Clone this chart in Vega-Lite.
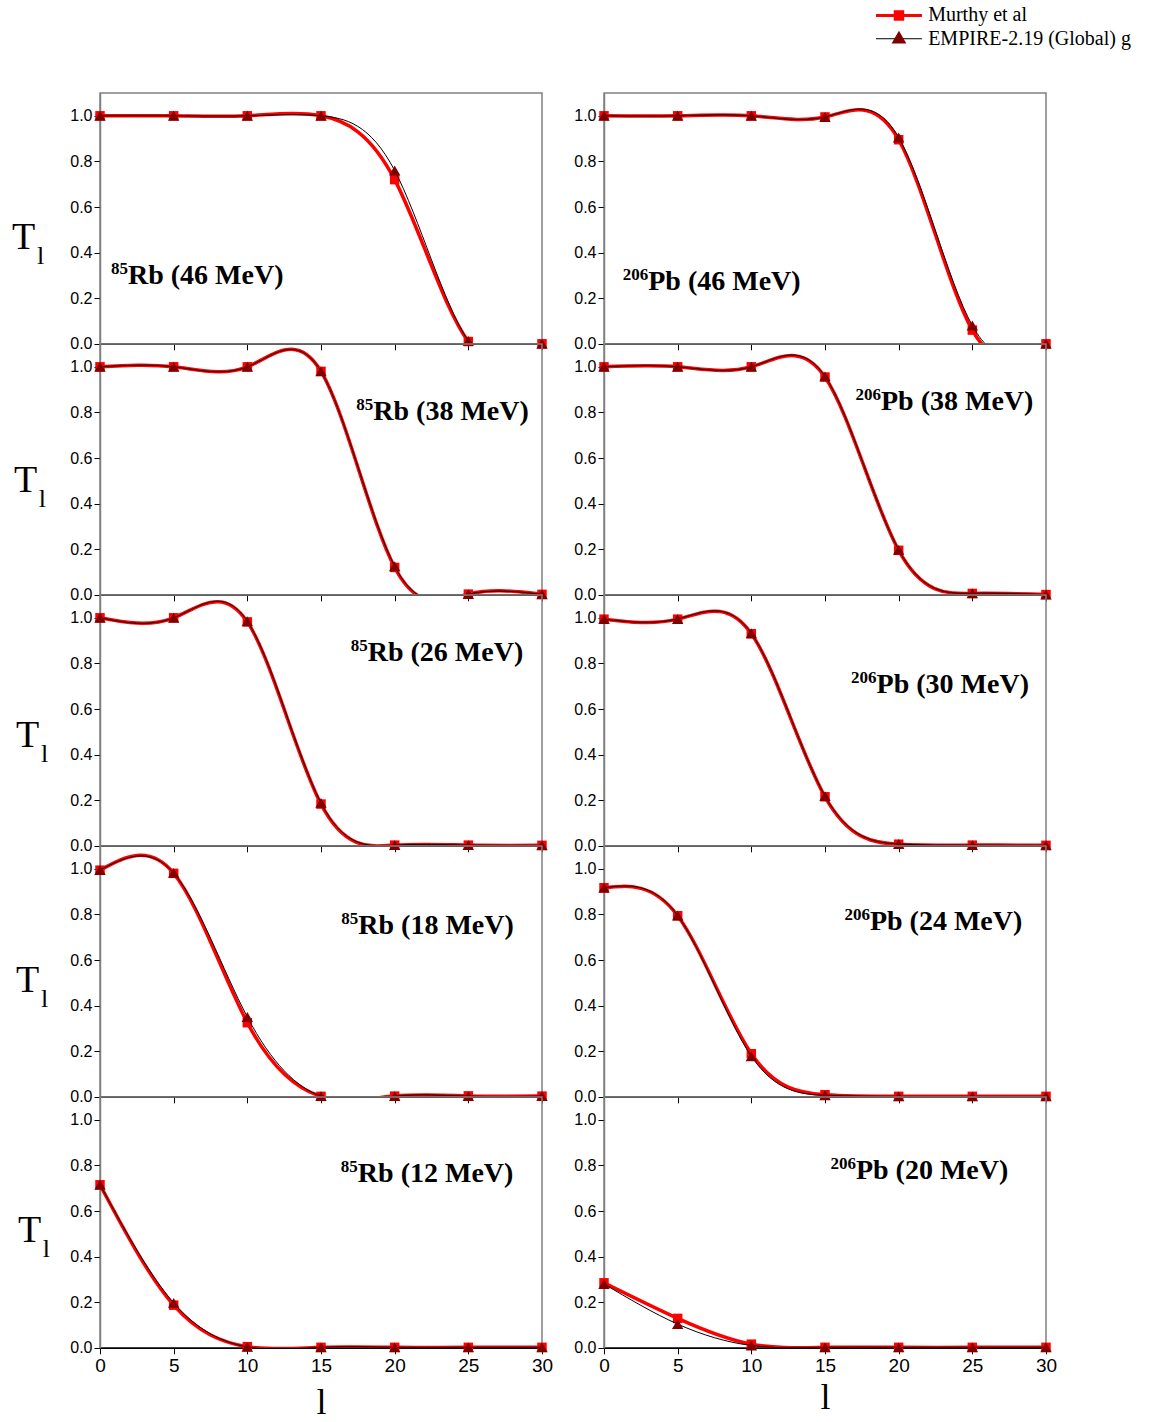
{
"$schema": "https://vega.github.io/schema/vega-lite/v6.json",
"padding": {"left": 11, "top": 4, "right": 0, "bottom": 0},
"background": "white",
"datasets": {"t": [
{"panel":"Rb46","series":"Murthy et al","l":0,"T":1.0},{"panel":"Rb46","series":"Murthy et al","l":5,"T":1.0},{"panel":"Rb46","series":"Murthy et al","l":10,"T":1.0},{"panel":"Rb46","series":"Murthy et al","l":15,"T":1.0},{"panel":"Rb46","series":"Murthy et al","l":20,"T":0.72},{"panel":"Rb46","series":"Murthy et al","l":25,"T":0.01},{"panel":"Rb46","series":"Murthy et al","l":30,"T":0.0},
{"panel":"Rb46","series":"EMPIRE","l":0,"T":1.0},{"panel":"Rb46","series":"EMPIRE","l":5,"T":1.0},{"panel":"Rb46","series":"EMPIRE","l":10,"T":1.0},{"panel":"Rb46","series":"EMPIRE","l":15,"T":1.0},{"panel":"Rb46","series":"EMPIRE","l":20,"T":0.76},{"panel":"Rb46","series":"EMPIRE","l":25,"T":0.013},{"panel":"Rb46","series":"EMPIRE","l":30,"T":0.0},
{"panel":"Pb46","series":"Murthy et al","l":0,"T":1.0},{"panel":"Pb46","series":"Murthy et al","l":5,"T":1.0},{"panel":"Pb46","series":"Murthy et al","l":10,"T":1.0},{"panel":"Pb46","series":"Murthy et al","l":15,"T":0.995},{"panel":"Pb46","series":"Murthy et al","l":20,"T":0.895},{"panel":"Pb46","series":"Murthy et al","l":25,"T":0.06},{"panel":"Pb46","series":"Murthy et al","l":30,"T":0.0},
{"panel":"Pb46","series":"EMPIRE","l":0,"T":1.0},{"panel":"Pb46","series":"EMPIRE","l":5,"T":1.0},{"panel":"Pb46","series":"EMPIRE","l":10,"T":1.0},{"panel":"Pb46","series":"EMPIRE","l":15,"T":0.995},{"panel":"Pb46","series":"EMPIRE","l":20,"T":0.905},{"panel":"Pb46","series":"EMPIRE","l":25,"T":0.08},{"panel":"Pb46","series":"EMPIRE","l":30,"T":0.0},
{"panel":"Rb38","series":"Murthy et al","l":0,"T":1.0},{"panel":"Rb38","series":"Murthy et al","l":5,"T":1.0},{"panel":"Rb38","series":"Murthy et al","l":10,"T":1.0},{"panel":"Rb38","series":"Murthy et al","l":15,"T":0.98},{"panel":"Rb38","series":"Murthy et al","l":20,"T":0.12},{"panel":"Rb38","series":"Murthy et al","l":25,"T":0.003},{"panel":"Rb38","series":"Murthy et al","l":30,"T":0.002},
{"panel":"Rb38","series":"EMPIRE","l":0,"T":1.0},{"panel":"Rb38","series":"EMPIRE","l":5,"T":1.0},{"panel":"Rb38","series":"EMPIRE","l":10,"T":1.0},{"panel":"Rb38","series":"EMPIRE","l":15,"T":0.98},{"panel":"Rb38","series":"EMPIRE","l":20,"T":0.125},{"panel":"Rb38","series":"EMPIRE","l":25,"T":0.003},{"panel":"Rb38","series":"EMPIRE","l":30,"T":0.002},
{"panel":"Pb38","series":"Murthy et al","l":0,"T":1.0},{"panel":"Pb38","series":"Murthy et al","l":5,"T":1.0},{"panel":"Pb38","series":"Murthy et al","l":10,"T":1.0},{"panel":"Pb38","series":"Murthy et al","l":15,"T":0.955},{"panel":"Pb38","series":"Murthy et al","l":20,"T":0.195},{"panel":"Pb38","series":"Murthy et al","l":25,"T":0.006},{"panel":"Pb38","series":"Murthy et al","l":30,"T":0.001},
{"panel":"Pb38","series":"EMPIRE","l":0,"T":1.0},{"panel":"Pb38","series":"EMPIRE","l":5,"T":1.0},{"panel":"Pb38","series":"EMPIRE","l":10,"T":1.0},{"panel":"Pb38","series":"EMPIRE","l":15,"T":0.958},{"panel":"Pb38","series":"EMPIRE","l":20,"T":0.197},{"panel":"Pb38","series":"EMPIRE","l":25,"T":0.007},{"panel":"Pb38","series":"EMPIRE","l":30,"T":0.001},
{"panel":"Rb26","series":"Murthy et al","l":0,"T":1.0},{"panel":"Rb26","series":"Murthy et al","l":5,"T":1.0},{"panel":"Rb26","series":"Murthy et al","l":10,"T":0.982},{"panel":"Rb26","series":"Murthy et al","l":15,"T":0.183},{"panel":"Rb26","series":"Murthy et al","l":20,"T":0.003},{"panel":"Rb26","series":"Murthy et al","l":25,"T":0.003},{"panel":"Rb26","series":"Murthy et al","l":30,"T":0.002},
{"panel":"Rb26","series":"EMPIRE","l":0,"T":1.0},{"panel":"Rb26","series":"EMPIRE","l":5,"T":1.0},{"panel":"Rb26","series":"EMPIRE","l":10,"T":0.985},{"panel":"Rb26","series":"EMPIRE","l":15,"T":0.188},{"panel":"Rb26","series":"EMPIRE","l":20,"T":0.003},{"panel":"Rb26","series":"EMPIRE","l":25,"T":0.003},{"panel":"Rb26","series":"EMPIRE","l":30,"T":0.002},
{"panel":"Pb30","series":"Murthy et al","l":0,"T":0.994},{"panel":"Pb30","series":"Murthy et al","l":5,"T":0.994},{"panel":"Pb30","series":"Murthy et al","l":10,"T":0.93},{"panel":"Pb30","series":"Murthy et al","l":15,"T":0.215},{"panel":"Pb30","series":"Murthy et al","l":20,"T":0.007},{"panel":"Pb30","series":"Murthy et al","l":25,"T":0.003},{"panel":"Pb30","series":"Murthy et al","l":30,"T":0.002},
{"panel":"Pb30","series":"EMPIRE","l":0,"T":0.994},{"panel":"Pb30","series":"EMPIRE","l":5,"T":0.995},{"panel":"Pb30","series":"EMPIRE","l":10,"T":0.932},{"panel":"Pb30","series":"EMPIRE","l":15,"T":0.218},{"panel":"Pb30","series":"EMPIRE","l":20,"T":0.008},{"panel":"Pb30","series":"EMPIRE","l":25,"T":0.003},{"panel":"Pb30","series":"EMPIRE","l":30,"T":0.002},
{"panel":"Rb18","series":"Murthy et al","l":0,"T":0.994},{"panel":"Rb18","series":"Murthy et al","l":5,"T":0.98},{"panel":"Rb18","series":"Murthy et al","l":10,"T":0.325},{"panel":"Rb18","series":"Murthy et al","l":15,"T":0.002},{"panel":"Rb18","series":"Murthy et al","l":20,"T":0.003},{"panel":"Rb18","series":"Murthy et al","l":25,"T":0.004},{"panel":"Rb18","series":"Murthy et al","l":30,"T":0.003},
{"panel":"Rb18","series":"EMPIRE","l":0,"T":0.995},{"panel":"Rb18","series":"EMPIRE","l":5,"T":0.982},{"panel":"Rb18","series":"EMPIRE","l":10,"T":0.35},{"panel":"Rb18","series":"EMPIRE","l":15,"T":0.003},{"panel":"Rb18","series":"EMPIRE","l":20,"T":0.003},{"panel":"Rb18","series":"EMPIRE","l":25,"T":0.003},{"panel":"Rb18","series":"EMPIRE","l":30,"T":0.003},
{"panel":"Pb24","series":"Murthy et al","l":0,"T":0.917},{"panel":"Pb24","series":"Murthy et al","l":5,"T":0.794},{"panel":"Pb24","series":"Murthy et al","l":10,"T":0.189},{"panel":"Pb24","series":"Murthy et al","l":15,"T":0.009},{"panel":"Pb24","series":"Murthy et al","l":20,"T":0.002},{"panel":"Pb24","series":"Murthy et al","l":25,"T":0.002},{"panel":"Pb24","series":"Murthy et al","l":30,"T":0.002},
{"panel":"Pb24","series":"EMPIRE","l":0,"T":0.917},{"panel":"Pb24","series":"EMPIRE","l":5,"T":0.795},{"panel":"Pb24","series":"EMPIRE","l":10,"T":0.178},{"panel":"Pb24","series":"EMPIRE","l":15,"T":0.007},{"panel":"Pb24","series":"EMPIRE","l":20,"T":0.002},{"panel":"Pb24","series":"EMPIRE","l":25,"T":0.002},{"panel":"Pb24","series":"EMPIRE","l":30,"T":0.002},
{"panel":"Rb12","series":"Murthy et al","l":0,"T":0.715},{"panel":"Rb12","series":"Murthy et al","l":5,"T":0.187},{"panel":"Rb12","series":"Murthy et al","l":10,"T":0.005},{"panel":"Rb12","series":"Murthy et al","l":15,"T":0.002},{"panel":"Rb12","series":"Murthy et al","l":20,"T":0.002},{"panel":"Rb12","series":"Murthy et al","l":25,"T":0.002},{"panel":"Rb12","series":"Murthy et al","l":30,"T":0.002},
{"panel":"Rb12","series":"EMPIRE","l":0,"T":0.715},{"panel":"Rb12","series":"EMPIRE","l":5,"T":0.197},{"panel":"Rb12","series":"EMPIRE","l":10,"T":0.004},{"panel":"Rb12","series":"EMPIRE","l":15,"T":0.002},{"panel":"Rb12","series":"EMPIRE","l":20,"T":0.002},{"panel":"Rb12","series":"EMPIRE","l":25,"T":0.002},{"panel":"Rb12","series":"EMPIRE","l":30,"T":0.002},
{"panel":"Pb20","series":"Murthy et al","l":0,"T":0.285},{"panel":"Pb20","series":"Murthy et al","l":5,"T":0.129},{"panel":"Pb20","series":"Murthy et al","l":10,"T":0.016},{"panel":"Pb20","series":"Murthy et al","l":15,"T":0.002},{"panel":"Pb20","series":"Murthy et al","l":20,"T":0.002},{"panel":"Pb20","series":"Murthy et al","l":25,"T":0.002},{"panel":"Pb20","series":"Murthy et al","l":30,"T":0.002},
{"panel":"Pb20","series":"EMPIRE","l":0,"T":0.28},{"panel":"Pb20","series":"EMPIRE","l":5,"T":0.104},{"panel":"Pb20","series":"EMPIRE","l":10,"T":0.01},{"panel":"Pb20","series":"EMPIRE","l":15,"T":0.002},{"panel":"Pb20","series":"EMPIRE","l":20,"T":0.002},{"panel":"Pb20","series":"EMPIRE","l":25,"T":0.002},{"panel":"Pb20","series":"EMPIRE","l":30,"T":0.002}
]},
"columns": 2,
"spacing": {"row": 0, "column": 62},
"bounds": "flush",
"concat": [
{"width":442,"height":250.8,
 "layer":[
  {"data":{"name":"t"},"transform":[{"filter":"datum.panel=='Rb46' && datum.series=='Murthy et al'"}],"mark":{"type":"line","interpolate":"natural","color":"#ff0000","strokeWidth":3.5,"clip":true},
   "encoding":{"x":{"field":"l","type":"quantitative","scale":{"domain":[0,30],"nice":false,"zero":false},"axis":{"title":null,"labels":false,"values":[0,2.5,5,7.5,10,12.5,15,17.5,20,22.5,25,27.5,30]}},"y":{"field":"T","type":"quantitative","scale":{"domain":[0,1.1],"nice":false},"axis":{"title":null,"values":[0,0.1,0.2,0.3,0.4,0.5,0.6,0.7,0.8,0.9,1.0]}}}},
  {"data":{"name":"t"},"transform":[{"filter":"datum.panel=='Rb46' && datum.series=='Murthy et al'"}],"mark":{"type":"point","shape":"square","filled":true,"color":"#ff0000","size":90,"opacity":1},"encoding":{"x":{"field":"l","type":"quantitative"},"y":{"field":"T","type":"quantitative"}}},
  {"data":{"name":"t"},"transform":[{"filter":"datum.panel=='Rb46' && datum.series=='EMPIRE'"}],"mark":{"type":"line","interpolate":"natural","color":"#000000","strokeWidth":1,"clip":true},"encoding":{"x":{"field":"l","type":"quantitative"},"y":{"field":"T","type":"quantitative"}}},
  {"data":{"name":"t"},"transform":[{"filter":"datum.panel=='Rb46' && datum.series=='EMPIRE'"}],"mark":{"type":"point","shape":"triangle-up","filled":true,"color":"#800000","size":130,"opacity":1},"encoding":{"x":{"field":"l","type":"quantitative"},"y":{"field":"T","type":"quantitative"}}},
  {"data":{"values":[{"sup":"85","name":"Rb (46 MeV)"}]},"mark":{"type":"text","font":"Liberation Serif","fontWeight":"bold","fontSize":28,"align":"left","baseline":"alphabetic"},"encoding":{"x":{"datum":1.9},"y":{"datum":0.263},"text":{"field":"name"}}},
  {"data":{"values":[{"sup":"85","name":"Rb (46 MeV)"}]},"mark":{"type":"text","font":"Liberation Serif","fontWeight":"bold","fontSize":17,"align":"right","baseline":"alphabetic","dy":-10},"encoding":{"x":{"datum":1.9},"y":{"datum":0.263},"text":{"field":"sup"}}},
  {"data":{"values":[{"a":"T","b":"l"}]},"mark":{"type":"text","font":"Liberation Serif","fontSize":38,"align":"left","baseline":"alphabetic"},"encoding":{"x":{"datum":-5.97},"y":{"datum":0.417},"text":{"field":"a"}}},
  {"data":{"values":[{"a":"T","b":"l"}]},"mark":{"type":"text","font":"Liberation Serif","fontSize":26,"align":"left","baseline":"alphabetic"},"encoding":{"x":{"datum":-4.28},"y":{"datum":0.351},"text":{"field":"b"}}}
 ]},
{"width":442,"height":250.8,
 "layer":[
  {"data":{"name":"t"},"transform":[{"filter":"datum.panel=='Pb46' && datum.series=='Murthy et al'"}],"mark":{"type":"line","interpolate":"natural","color":"#ff0000","strokeWidth":3.5,"clip":true},
   "encoding":{"x":{"field":"l","type":"quantitative","scale":{"domain":[0,30],"nice":false,"zero":false},"axis":{"title":null,"labels":false,"values":[0,2.5,5,7.5,10,12.5,15,17.5,20,22.5,25,27.5,30]}},"y":{"field":"T","type":"quantitative","scale":{"domain":[0,1.1],"nice":false},"axis":{"title":null,"values":[0,0.1,0.2,0.3,0.4,0.5,0.6,0.7,0.8,0.9,1.0]}}}},
  {"data":{"name":"t"},"transform":[{"filter":"datum.panel=='Pb46' && datum.series=='Murthy et al'"}],"mark":{"type":"point","shape":"square","filled":true,"color":"#ff0000","size":90,"opacity":1},"encoding":{"x":{"field":"l","type":"quantitative"},"y":{"field":"T","type":"quantitative"}}},
  {"data":{"name":"t"},"transform":[{"filter":"datum.panel=='Pb46' && datum.series=='EMPIRE'"}],"mark":{"type":"line","interpolate":"natural","color":"#000000","strokeWidth":1,"clip":true},"encoding":{"x":{"field":"l","type":"quantitative"},"y":{"field":"T","type":"quantitative"}}},
  {"data":{"name":"t"},"transform":[{"filter":"datum.panel=='Pb46' && datum.series=='EMPIRE'"}],"mark":{"type":"point","shape":"triangle-up","filled":true,"color":"#800000","size":130,"opacity":1},"encoding":{"x":{"field":"l","type":"quantitative"},"y":{"field":"T","type":"quantitative"}}},
  {"data":{"values":[{"sup":"206","name":"Pb (46 MeV)"}]},"mark":{"type":"text","font":"Liberation Serif","fontWeight":"bold","fontSize":28,"align":"left","baseline":"alphabetic"},"encoding":{"x":{"datum":3.0},"y":{"datum":0.236},"text":{"field":"name"}}},
  {"data":{"values":[{"sup":"206","name":"Pb (46 MeV)"}]},"mark":{"type":"text","font":"Liberation Serif","fontWeight":"bold","fontSize":17,"align":"right","baseline":"alphabetic","dy":-10},"encoding":{"x":{"datum":3.0},"y":{"datum":0.236},"text":{"field":"sup"}}},
  {"data":{"values":[{"s":"Murthy et al"}]},"mark":{"type":"rule","color":"#ff0000","strokeWidth":3},"encoding":{"x":{"datum":18.46},"x2":{"datum":21.58},"y":{"datum":1.44}}},
  {"data":{"values":[{"s":"Murthy et al"}]},"mark":{"type":"point","shape":"square","filled":true,"color":"#ff0000","size":110,"opacity":1},"encoding":{"x":{"datum":20.02},"y":{"datum":1.44}}},
  {"data":{"values":[{"s":"Murthy et al"}]},"mark":{"type":"text","font":"Liberation Serif","fontSize":20,"align":"left","baseline":"middle"},"encoding":{"x":{"datum":22.0},"y":{"datum":1.44},"text":{"field":"s"}}},
  {"data":{"values":[{"s":"EMPIRE-2.19 (Global) g"}]},"mark":{"type":"rule","color":"#000000","strokeWidth":1},"encoding":{"x":{"datum":18.46},"x2":{"datum":21.58},"y":{"datum":1.338}}},
  {"data":{"values":[{"s":"EMPIRE-2.19 (Global) g"}]},"mark":{"type":"point","shape":"triangle-up","filled":true,"color":"#800000","size":220,"opacity":1},"encoding":{"x":{"datum":20.02},"y":{"datum":1.345}}},
  {"data":{"values":[{"s":"EMPIRE-2.19 (Global) g"}]},"mark":{"type":"text","font":"Liberation Serif","fontSize":20,"align":"left","baseline":"middle"},"encoding":{"x":{"datum":22.0},"y":{"datum":1.338},"text":{"field":"s"}}}
 ]},
{"width":442,"height":250.8,
 "layer":[
  {"data":{"name":"t"},"transform":[{"filter":"datum.panel=='Rb38' && datum.series=='Murthy et al'"}],"mark":{"type":"line","interpolate":"natural","color":"#ff0000","strokeWidth":3.5,"clip":true},
   "encoding":{"x":{"field":"l","type":"quantitative","scale":{"domain":[0,30],"nice":false,"zero":false},"axis":{"title":null,"labels":false,"values":[0,2.5,5,7.5,10,12.5,15,17.5,20,22.5,25,27.5,30]}},"y":{"field":"T","type":"quantitative","scale":{"domain":[0,1.1],"nice":false},"axis":{"title":null,"values":[0,0.1,0.2,0.3,0.4,0.5,0.6,0.7,0.8,0.9,1.0]}}}},
  {"data":{"name":"t"},"transform":[{"filter":"datum.panel=='Rb38' && datum.series=='Murthy et al'"}],"mark":{"type":"point","shape":"square","filled":true,"color":"#ff0000","size":90,"opacity":1},"encoding":{"x":{"field":"l","type":"quantitative"},"y":{"field":"T","type":"quantitative"}}},
  {"data":{"name":"t"},"transform":[{"filter":"datum.panel=='Rb38' && datum.series=='EMPIRE'"}],"mark":{"type":"line","interpolate":"natural","color":"#000000","strokeWidth":1,"clip":true},"encoding":{"x":{"field":"l","type":"quantitative"},"y":{"field":"T","type":"quantitative"}}},
  {"data":{"name":"t"},"transform":[{"filter":"datum.panel=='Rb38' && datum.series=='EMPIRE'"}],"mark":{"type":"point","shape":"triangle-up","filled":true,"color":"#800000","size":130,"opacity":1},"encoding":{"x":{"field":"l","type":"quantitative"},"y":{"field":"T","type":"quantitative"}}},
  {"data":{"values":[{"sup":"85","name":"Rb (38 MeV)"}]},"mark":{"type":"text","font":"Liberation Serif","fontWeight":"bold","fontSize":28,"align":"left","baseline":"alphabetic"},"encoding":{"x":{"datum":18.55},"y":{"datum":0.766},"text":{"field":"name"}}},
  {"data":{"values":[{"sup":"85","name":"Rb (38 MeV)"}]},"mark":{"type":"text","font":"Liberation Serif","fontWeight":"bold","fontSize":17,"align":"right","baseline":"alphabetic","dy":-10},"encoding":{"x":{"datum":18.55},"y":{"datum":0.766},"text":{"field":"sup"}}},
  {"data":{"values":[{"a":"T","b":"l"}]},"mark":{"type":"text","font":"Liberation Serif","fontSize":38,"align":"left","baseline":"alphabetic"},"encoding":{"x":{"datum":-5.84},"y":{"datum":0.452},"text":{"field":"a"}}},
  {"data":{"values":[{"a":"T","b":"l"}]},"mark":{"type":"text","font":"Liberation Serif","fontSize":26,"align":"left","baseline":"alphabetic"},"encoding":{"x":{"datum":-4.15},"y":{"datum":0.386},"text":{"field":"b"}}}
 ]},
{"width":442,"height":250.8,
 "layer":[
  {"data":{"name":"t"},"transform":[{"filter":"datum.panel=='Pb38' && datum.series=='Murthy et al'"}],"mark":{"type":"line","interpolate":"natural","color":"#ff0000","strokeWidth":3.5,"clip":true},
   "encoding":{"x":{"field":"l","type":"quantitative","scale":{"domain":[0,30],"nice":false,"zero":false},"axis":{"title":null,"labels":false,"values":[0,2.5,5,7.5,10,12.5,15,17.5,20,22.5,25,27.5,30]}},"y":{"field":"T","type":"quantitative","scale":{"domain":[0,1.1],"nice":false},"axis":{"title":null,"values":[0,0.1,0.2,0.3,0.4,0.5,0.6,0.7,0.8,0.9,1.0]}}}},
  {"data":{"name":"t"},"transform":[{"filter":"datum.panel=='Pb38' && datum.series=='Murthy et al'"}],"mark":{"type":"point","shape":"square","filled":true,"color":"#ff0000","size":90,"opacity":1},"encoding":{"x":{"field":"l","type":"quantitative"},"y":{"field":"T","type":"quantitative"}}},
  {"data":{"name":"t"},"transform":[{"filter":"datum.panel=='Pb38' && datum.series=='EMPIRE'"}],"mark":{"type":"line","interpolate":"natural","color":"#000000","strokeWidth":1,"clip":true},"encoding":{"x":{"field":"l","type":"quantitative"},"y":{"field":"T","type":"quantitative"}}},
  {"data":{"name":"t"},"transform":[{"filter":"datum.panel=='Pb38' && datum.series=='EMPIRE'"}],"mark":{"type":"point","shape":"triangle-up","filled":true,"color":"#800000","size":130,"opacity":1},"encoding":{"x":{"field":"l","type":"quantitative"},"y":{"field":"T","type":"quantitative"}}},
  {"data":{"values":[{"sup":"206","name":"Pb (38 MeV)"}]},"mark":{"type":"text","font":"Liberation Serif","fontWeight":"bold","fontSize":28,"align":"left","baseline":"alphabetic"},"encoding":{"x":{"datum":18.8},"y":{"datum":0.81},"text":{"field":"name"}}},
  {"data":{"values":[{"sup":"206","name":"Pb (38 MeV)"}]},"mark":{"type":"text","font":"Liberation Serif","fontWeight":"bold","fontSize":17,"align":"right","baseline":"alphabetic","dy":-10},"encoding":{"x":{"datum":18.8},"y":{"datum":0.81},"text":{"field":"sup"}}}
 ]},
{"width":442,"height":250.8,
 "layer":[
  {"data":{"name":"t"},"transform":[{"filter":"datum.panel=='Rb26' && datum.series=='Murthy et al'"}],"mark":{"type":"line","interpolate":"natural","color":"#ff0000","strokeWidth":3.5,"clip":true},
   "encoding":{"x":{"field":"l","type":"quantitative","scale":{"domain":[0,30],"nice":false,"zero":false},"axis":{"title":null,"labels":false,"values":[0,2.5,5,7.5,10,12.5,15,17.5,20,22.5,25,27.5,30]}},"y":{"field":"T","type":"quantitative","scale":{"domain":[0,1.1],"nice":false},"axis":{"title":null,"values":[0,0.1,0.2,0.3,0.4,0.5,0.6,0.7,0.8,0.9,1.0]}}}},
  {"data":{"name":"t"},"transform":[{"filter":"datum.panel=='Rb26' && datum.series=='Murthy et al'"}],"mark":{"type":"point","shape":"square","filled":true,"color":"#ff0000","size":90,"opacity":1},"encoding":{"x":{"field":"l","type":"quantitative"},"y":{"field":"T","type":"quantitative"}}},
  {"data":{"name":"t"},"transform":[{"filter":"datum.panel=='Rb26' && datum.series=='EMPIRE'"}],"mark":{"type":"line","interpolate":"natural","color":"#000000","strokeWidth":1,"clip":true},"encoding":{"x":{"field":"l","type":"quantitative"},"y":{"field":"T","type":"quantitative"}}},
  {"data":{"name":"t"},"transform":[{"filter":"datum.panel=='Rb26' && datum.series=='EMPIRE'"}],"mark":{"type":"point","shape":"triangle-up","filled":true,"color":"#800000","size":130,"opacity":1},"encoding":{"x":{"field":"l","type":"quantitative"},"y":{"field":"T","type":"quantitative"}}},
  {"data":{"values":[{"sup":"85","name":"Rb (26 MeV)"}]},"mark":{"type":"text","font":"Liberation Serif","fontWeight":"bold","fontSize":28,"align":"left","baseline":"alphabetic"},"encoding":{"x":{"datum":18.17},"y":{"datum":0.811},"text":{"field":"name"}}},
  {"data":{"values":[{"sup":"85","name":"Rb (26 MeV)"}]},"mark":{"type":"text","font":"Liberation Serif","fontWeight":"bold","fontSize":17,"align":"right","baseline":"alphabetic","dy":-10},"encoding":{"x":{"datum":18.17},"y":{"datum":0.811},"text":{"field":"sup"}}},
  {"data":{"values":[{"a":"T","b":"l"}]},"mark":{"type":"text","font":"Liberation Serif","fontSize":38,"align":"left","baseline":"alphabetic"},"encoding":{"x":{"datum":-5.70},"y":{"datum":0.434},"text":{"field":"a"}}},
  {"data":{"values":[{"a":"T","b":"l"}]},"mark":{"type":"text","font":"Liberation Serif","fontSize":26,"align":"left","baseline":"alphabetic"},"encoding":{"x":{"datum":-4.01},"y":{"datum":0.368},"text":{"field":"b"}}}
 ]},
{"width":442,"height":250.8,
 "layer":[
  {"data":{"name":"t"},"transform":[{"filter":"datum.panel=='Pb30' && datum.series=='Murthy et al'"}],"mark":{"type":"line","interpolate":"natural","color":"#ff0000","strokeWidth":3.5,"clip":true},
   "encoding":{"x":{"field":"l","type":"quantitative","scale":{"domain":[0,30],"nice":false,"zero":false},"axis":{"title":null,"labels":false,"values":[0,2.5,5,7.5,10,12.5,15,17.5,20,22.5,25,27.5,30]}},"y":{"field":"T","type":"quantitative","scale":{"domain":[0,1.1],"nice":false},"axis":{"title":null,"values":[0,0.1,0.2,0.3,0.4,0.5,0.6,0.7,0.8,0.9,1.0]}}}},
  {"data":{"name":"t"},"transform":[{"filter":"datum.panel=='Pb30' && datum.series=='Murthy et al'"}],"mark":{"type":"point","shape":"square","filled":true,"color":"#ff0000","size":90,"opacity":1},"encoding":{"x":{"field":"l","type":"quantitative"},"y":{"field":"T","type":"quantitative"}}},
  {"data":{"name":"t"},"transform":[{"filter":"datum.panel=='Pb30' && datum.series=='EMPIRE'"}],"mark":{"type":"line","interpolate":"natural","color":"#000000","strokeWidth":1,"clip":true},"encoding":{"x":{"field":"l","type":"quantitative"},"y":{"field":"T","type":"quantitative"}}},
  {"data":{"name":"t"},"transform":[{"filter":"datum.panel=='Pb30' && datum.series=='EMPIRE'"}],"mark":{"type":"point","shape":"triangle-up","filled":true,"color":"#800000","size":130,"opacity":1},"encoding":{"x":{"field":"l","type":"quantitative"},"y":{"field":"T","type":"quantitative"}}},
  {"data":{"values":[{"sup":"206","name":"Pb (30 MeV)"}]},"mark":{"type":"text","font":"Liberation Serif","fontWeight":"bold","fontSize":28,"align":"left","baseline":"alphabetic"},"encoding":{"x":{"datum":18.5},"y":{"datum":0.668},"text":{"field":"name"}}},
  {"data":{"values":[{"sup":"206","name":"Pb (30 MeV)"}]},"mark":{"type":"text","font":"Liberation Serif","fontWeight":"bold","fontSize":17,"align":"right","baseline":"alphabetic","dy":-10},"encoding":{"x":{"datum":18.5},"y":{"datum":0.668},"text":{"field":"sup"}}}
 ]},
{"width":442,"height":250.8,
 "layer":[
  {"data":{"name":"t"},"transform":[{"filter":"datum.panel=='Rb18' && datum.series=='Murthy et al'"}],"mark":{"type":"line","interpolate":"natural","color":"#ff0000","strokeWidth":3.5,"clip":true},
   "encoding":{"x":{"field":"l","type":"quantitative","scale":{"domain":[0,30],"nice":false,"zero":false},"axis":{"title":null,"labels":false,"values":[0,2.5,5,7.5,10,12.5,15,17.5,20,22.5,25,27.5,30]}},"y":{"field":"T","type":"quantitative","scale":{"domain":[0,1.1],"nice":false},"axis":{"title":null,"values":[0,0.1,0.2,0.3,0.4,0.5,0.6,0.7,0.8,0.9,1.0]}}}},
  {"data":{"name":"t"},"transform":[{"filter":"datum.panel=='Rb18' && datum.series=='Murthy et al'"}],"mark":{"type":"point","shape":"square","filled":true,"color":"#ff0000","size":90,"opacity":1},"encoding":{"x":{"field":"l","type":"quantitative"},"y":{"field":"T","type":"quantitative"}}},
  {"data":{"name":"t"},"transform":[{"filter":"datum.panel=='Rb18' && datum.series=='EMPIRE'"}],"mark":{"type":"line","interpolate":"natural","color":"#000000","strokeWidth":1,"clip":true},"encoding":{"x":{"field":"l","type":"quantitative"},"y":{"field":"T","type":"quantitative"}}},
  {"data":{"name":"t"},"transform":[{"filter":"datum.panel=='Rb18' && datum.series=='EMPIRE'"}],"mark":{"type":"point","shape":"triangle-up","filled":true,"color":"#800000","size":130,"opacity":1},"encoding":{"x":{"field":"l","type":"quantitative"},"y":{"field":"T","type":"quantitative"}}},
  {"data":{"values":[{"sup":"85","name":"Rb (18 MeV)"}]},"mark":{"type":"text","font":"Liberation Serif","fontWeight":"bold","fontSize":28,"align":"left","baseline":"alphabetic"},"encoding":{"x":{"datum":17.53},"y":{"datum":0.712},"text":{"field":"name"}}},
  {"data":{"values":[{"sup":"85","name":"Rb (18 MeV)"}]},"mark":{"type":"text","font":"Liberation Serif","fontWeight":"bold","fontSize":17,"align":"right","baseline":"alphabetic","dy":-10},"encoding":{"x":{"datum":17.53},"y":{"datum":0.712},"text":{"field":"sup"}}},
  {"data":{"values":[{"a":"T","b":"l"}]},"mark":{"type":"text","font":"Liberation Serif","fontSize":38,"align":"left","baseline":"alphabetic"},"encoding":{"x":{"datum":-5.70},"y":{"datum":0.46},"text":{"field":"a"}}},
  {"data":{"values":[{"a":"T","b":"l"}]},"mark":{"type":"text","font":"Liberation Serif","fontSize":26,"align":"left","baseline":"alphabetic"},"encoding":{"x":{"datum":-4.01},"y":{"datum":0.394},"text":{"field":"b"}}}
 ]},
{"width":442,"height":250.8,
 "layer":[
  {"data":{"name":"t"},"transform":[{"filter":"datum.panel=='Pb24' && datum.series=='Murthy et al'"}],"mark":{"type":"line","interpolate":"natural","color":"#ff0000","strokeWidth":3.5,"clip":true},
   "encoding":{"x":{"field":"l","type":"quantitative","scale":{"domain":[0,30],"nice":false,"zero":false},"axis":{"title":null,"labels":false,"values":[0,2.5,5,7.5,10,12.5,15,17.5,20,22.5,25,27.5,30]}},"y":{"field":"T","type":"quantitative","scale":{"domain":[0,1.1],"nice":false},"axis":{"title":null,"values":[0,0.1,0.2,0.3,0.4,0.5,0.6,0.7,0.8,0.9,1.0]}}}},
  {"data":{"name":"t"},"transform":[{"filter":"datum.panel=='Pb24' && datum.series=='Murthy et al'"}],"mark":{"type":"point","shape":"square","filled":true,"color":"#ff0000","size":90,"opacity":1},"encoding":{"x":{"field":"l","type":"quantitative"},"y":{"field":"T","type":"quantitative"}}},
  {"data":{"name":"t"},"transform":[{"filter":"datum.panel=='Pb24' && datum.series=='EMPIRE'"}],"mark":{"type":"line","interpolate":"natural","color":"#000000","strokeWidth":1,"clip":true},"encoding":{"x":{"field":"l","type":"quantitative"},"y":{"field":"T","type":"quantitative"}}},
  {"data":{"name":"t"},"transform":[{"filter":"datum.panel=='Pb24' && datum.series=='EMPIRE'"}],"mark":{"type":"point","shape":"triangle-up","filled":true,"color":"#800000","size":130,"opacity":1},"encoding":{"x":{"field":"l","type":"quantitative"},"y":{"field":"T","type":"quantitative"}}},
  {"data":{"values":[{"sup":"206","name":"Pb (24 MeV)"}]},"mark":{"type":"text","font":"Liberation Serif","fontWeight":"bold","fontSize":28,"align":"left","baseline":"alphabetic"},"encoding":{"x":{"datum":18.05},"y":{"datum":0.732},"text":{"field":"name"}}},
  {"data":{"values":[{"sup":"206","name":"Pb (24 MeV)"}]},"mark":{"type":"text","font":"Liberation Serif","fontWeight":"bold","fontSize":17,"align":"right","baseline":"alphabetic","dy":-10},"encoding":{"x":{"datum":18.05},"y":{"datum":0.732},"text":{"field":"sup"}}}
 ]},
{"width":442,"height":250.8,
 "layer":[
  {"data":{"name":"t"},"transform":[{"filter":"datum.panel=='Rb12' && datum.series=='Murthy et al'"}],"mark":{"type":"line","interpolate":"natural","color":"#ff0000","strokeWidth":3.5,"clip":true},
   "encoding":{"x":{"field":"l","type":"quantitative","scale":{"domain":[0,30],"nice":false,"zero":false},"axis":{"title":"l","labels":true,"titlePadding":10,"values":[0,2.5,5,7.5,10,12.5,15,17.5,20,22.5,25,27.5,30]}},"y":{"field":"T","type":"quantitative","scale":{"domain":[0,1.1],"nice":false},"axis":{"title":null,"values":[0,0.1,0.2,0.3,0.4,0.5,0.6,0.7,0.8,0.9,1.0]}}}},
  {"data":{"name":"t"},"transform":[{"filter":"datum.panel=='Rb12' && datum.series=='Murthy et al'"}],"mark":{"type":"point","shape":"square","filled":true,"color":"#ff0000","size":90,"opacity":1},"encoding":{"x":{"field":"l","type":"quantitative"},"y":{"field":"T","type":"quantitative"}}},
  {"data":{"name":"t"},"transform":[{"filter":"datum.panel=='Rb12' && datum.series=='EMPIRE'"}],"mark":{"type":"line","interpolate":"natural","color":"#000000","strokeWidth":1,"clip":true},"encoding":{"x":{"field":"l","type":"quantitative"},"y":{"field":"T","type":"quantitative"}}},
  {"data":{"name":"t"},"transform":[{"filter":"datum.panel=='Rb12' && datum.series=='EMPIRE'"}],"mark":{"type":"point","shape":"triangle-up","filled":true,"color":"#800000","size":130,"opacity":1},"encoding":{"x":{"field":"l","type":"quantitative"},"y":{"field":"T","type":"quantitative"}}},
  {"data":{"values":[{"sup":"85","name":"Rb (12 MeV)"}]},"mark":{"type":"text","font":"Liberation Serif","fontWeight":"bold","fontSize":28,"align":"left","baseline":"alphabetic"},"encoding":{"x":{"datum":17.5},"y":{"datum":0.728},"text":{"field":"name"}}},
  {"data":{"values":[{"sup":"85","name":"Rb (12 MeV)"}]},"mark":{"type":"text","font":"Liberation Serif","fontWeight":"bold","fontSize":17,"align":"right","baseline":"alphabetic","dy":-10},"encoding":{"x":{"datum":17.5},"y":{"datum":0.728},"text":{"field":"sup"}}},
  {"data":{"values":[{"a":"T","b":"l"}]},"mark":{"type":"text","font":"Liberation Serif","fontSize":38,"align":"left","baseline":"alphabetic"},"encoding":{"x":{"datum":-5.57},"y":{"datum":0.465},"text":{"field":"a"}}},
  {"data":{"values":[{"a":"T","b":"l"}]},"mark":{"type":"text","font":"Liberation Serif","fontSize":26,"align":"left","baseline":"alphabetic"},"encoding":{"x":{"datum":-3.88},"y":{"datum":0.399},"text":{"field":"b"}}}
 ]},
{"width":442,"height":250.8,
 "layer":[
  {"data":{"name":"t"},"transform":[{"filter":"datum.panel=='Pb20' && datum.series=='Murthy et al'"}],"mark":{"type":"line","interpolate":"natural","color":"#ff0000","strokeWidth":3.5,"clip":true},
   "encoding":{"x":{"field":"l","type":"quantitative","scale":{"domain":[0,30],"nice":false,"zero":false},"axis":{"title":"l","labels":true,"titlePadding":5,"values":[0,2.5,5,7.5,10,12.5,15,17.5,20,22.5,25,27.5,30]}},"y":{"field":"T","type":"quantitative","scale":{"domain":[0,1.1],"nice":false},"axis":{"title":null,"values":[0,0.1,0.2,0.3,0.4,0.5,0.6,0.7,0.8,0.9,1.0]}}}},
  {"data":{"name":"t"},"transform":[{"filter":"datum.panel=='Pb20' && datum.series=='Murthy et al'"}],"mark":{"type":"point","shape":"square","filled":true,"color":"#ff0000","size":90,"opacity":1},"encoding":{"x":{"field":"l","type":"quantitative"},"y":{"field":"T","type":"quantitative"}}},
  {"data":{"name":"t"},"transform":[{"filter":"datum.panel=='Pb20' && datum.series=='EMPIRE'"}],"mark":{"type":"line","interpolate":"natural","color":"#000000","strokeWidth":1,"clip":true},"encoding":{"x":{"field":"l","type":"quantitative"},"y":{"field":"T","type":"quantitative"}}},
  {"data":{"name":"t"},"transform":[{"filter":"datum.panel=='Pb20' && datum.series=='EMPIRE'"}],"mark":{"type":"point","shape":"triangle-up","filled":true,"color":"#800000","size":130,"opacity":1},"encoding":{"x":{"field":"l","type":"quantitative"},"y":{"field":"T","type":"quantitative"}}},
  {"data":{"values":[{"sup":"206","name":"Pb (20 MeV)"}]},"mark":{"type":"text","font":"Liberation Serif","fontWeight":"bold","fontSize":28,"align":"left","baseline":"alphabetic"},"encoding":{"x":{"datum":17.1},"y":{"datum":0.741},"text":{"field":"name"}}},
  {"data":{"values":[{"sup":"206","name":"Pb (20 MeV)"}]},"mark":{"type":"text","font":"Liberation Serif","fontWeight":"bold","fontSize":17,"align":"right","baseline":"alphabetic","dy":-10},"encoding":{"x":{"datum":17.1},"y":{"datum":0.741},"text":{"field":"sup"}}}
 ]}
],
"config": {
 "view": {"stroke": "#808080", "strokeWidth": 1.5},
 "axis": {"grid": false, "labelFont": "Liberation Sans", "labelColor": "#000000", "tickColor": "#000000", "tickWidth": 1, "domainWidth": 1.5, "titleFont": "Liberation Serif", "titleFontWeight": "normal", "titleFontSize": 36, "titleColor": "#000000", "labelOverlap": false, "labelBound": false},
 "axisX": {"labelExpr": "datum.value % 5 == 0 ? format(datum.value, 'd') : ''", "labelFontSize": 19, "labelFlush": false, "labelPadding": 3, "tickSize": {"condition": {"test": "datum.value % 5 == 0", "value": 6}, "value": 3}, "domainColor": "#000000"},
 "axisY": {"labelExpr": "abs(datum.value*5 - round(datum.value*5)) < 0.001 ? format(datum.value, '.1f') : ''", "labelFontSize": 16, "labelPadding": 2, "tickSize": {"condition": {"test": "abs(datum.value*5 - round(datum.value*5)) < 0.001", "value": 6}, "value": 3}, "domainColor": "#808080"}
}
}
